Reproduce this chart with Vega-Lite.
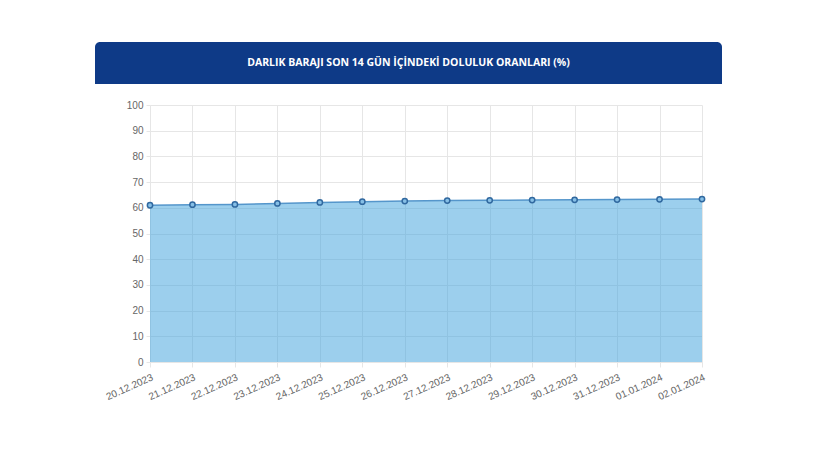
{
  "$schema": "https://vega.github.io/schema/vega-lite/v6.json",
  "padding": {"left": 95, "top": 42, "right": 0, "bottom": 0},
  "background": "#ffffff",
  "config": {"view": {"stroke": null}, "font": "Liberation Sans"},
  "spacing": 16,
  "datasets": {
    "d": [
      {"tarih": "20.12.2023", "oran": 61.0},
      {"tarih": "21.12.2023", "oran": 61.2},
      {"tarih": "22.12.2023", "oran": 61.3},
      {"tarih": "23.12.2023", "oran": 61.7},
      {"tarih": "24.12.2023", "oran": 62.1},
      {"tarih": "25.12.2023", "oran": 62.4},
      {"tarih": "26.12.2023", "oran": 62.6},
      {"tarih": "27.12.2023", "oran": 62.8},
      {"tarih": "28.12.2023", "oran": 62.9},
      {"tarih": "29.12.2023", "oran": 63.0},
      {"tarih": "30.12.2023", "oran": 63.1},
      {"tarih": "31.12.2023", "oran": 63.2},
      {"tarih": "01.01.2024", "oran": 63.3},
      {"tarih": "02.01.2024", "oran": 63.4}
    ]
  },
  "vconcat": [
    {
      "width": 627,
      "height": 42,
      "data": {"values": [{"baslik": "DARLIK BARAJI SON 14 GÜN İÇİNDEKİ DOLULUK ORANLARI (%)"}]},
      "layer": [
        {"mark": {"type": "rect", "color": "#0e3a87", "cornerRadiusTopLeft": 5, "cornerRadiusTopRight": 5}, "encoding": {}},
        {"mark": {"type": "text", "color": "#ffffff", "font": "Open Sans", "fontWeight": "bold", "fontSize": 10.5, "align": "center", "baseline": "middle"},
         "encoding": {"text": {"field": "baslik"}}}
      ]
    },
    {
      "hconcat": [
        {
          "width": 55,
          "height": 257,
          "data": {"values": []},
          "mark": "rect",
          "encoding": {}
        },
        {
          "width": 552,
          "height": 257,
          "data": {"name": "d"},
          "encoding": {
            "x": {"field": "tarih", "type": "ordinal", "sort": null,
              "scale": {"type": "point", "padding": 0},
              "axis": {"title": null, "labelAngle": -24, "labelAlign": "right", "labelBaseline": "top", "labelColor": "#666666", "labelFontSize": 10, "labelPadding": 5, "grid": true, "gridColor": "#e6e6e6", "tickColor": "#e6e6e6", "domainColor": "#e6e6e6", "tickSize": 5}},
            "y": {"field": "oran", "type": "quantitative",
              "scale": {"domain": [0, 100], "nice": false},
              "axis": {"title": null, "values": [0,10,20,30,40,50,60,70,80,90,100], "labelColor": "#666666", "labelFontSize": 10, "labelPadding": 3, "gridColor": "#e6e6e6", "tickColor": "#e6e6e6", "domainColor": "#e6e6e6", "tickSize": 4}}
          },
          "layer": [
            {"mark": {"type": "area", "color": "#3aa0dc", "opacity": 0.5, "line": false}},
            {"mark": {"type": "line", "color": "#5596cb", "strokeWidth": 1.5}},
            {"mark": {"type": "point", "filled": true, "fill": "#86bfe6", "stroke": "#30689f", "strokeWidth": 1.5, "size": 28, "opacity": 1}}
          ]
        }
      ],
      "spacing": 0,
      "bounds": "flush"
    }
  ]
}
